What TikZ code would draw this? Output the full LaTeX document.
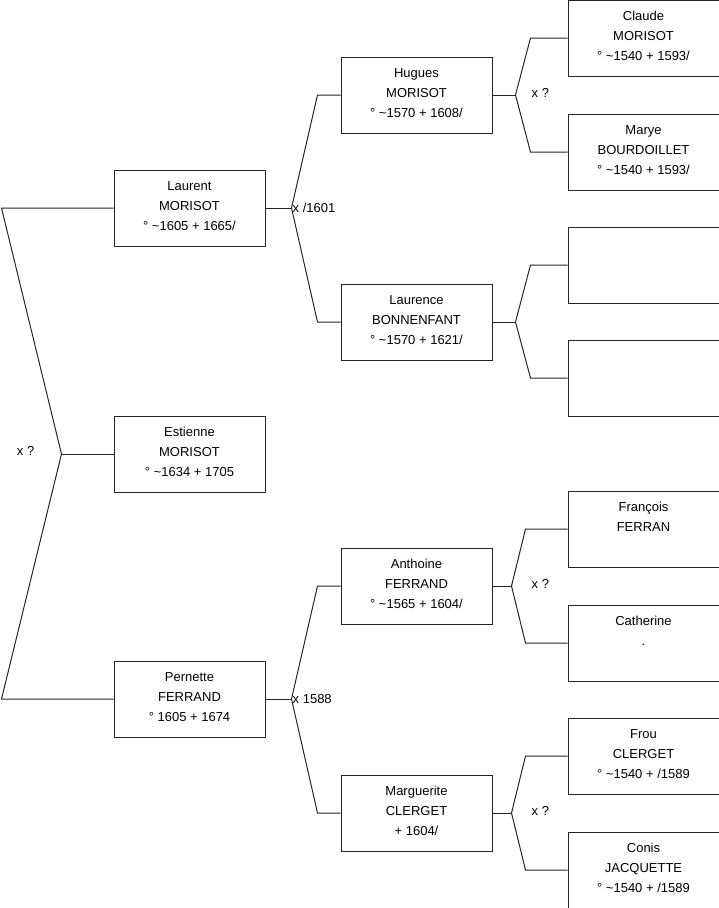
\documentclass[tikz,border=0pt]{standalone}
\usepackage{fontspec}
\setmainfont{Liberation Sans}

\tikzset{
  person/.style={draw=black!85, line width=1pt, fill=white, minimum width=151pt, minimum height=76pt,
    inner sep=0pt, align=center, font=\fontsize{13}{20}\selectfont},
  link/.style={draw=black!85, line width=1pt},
  union/.style={inner sep=1pt, font=\fontsize{13}{15}\selectfont}
}
\newcommand{\who}[3]{\strut #1\\\strut #2\\\strut #3\rule[-10pt]{0pt}{10pt}}

\begin{document}
\begin{tikzpicture}[x=1pt, y=-1pt]
  \useasboundingbox (0,0) rectangle (719,908);

  \node[person] (estienne) at (189.5,454) {\who{Estienne}{MORISOT}{° \textasciitilde1634 + 1705}};
  \node[person] (laurent) at (189.5,208) {\who{Laurent}{MORISOT}{° \textasciitilde1605 + 1665/}};
  \node[person] (pernette) at (189.5,699) {\who{Pernette}{FERRAND}{° 1605 + 1674}};

  \node[person] (hugues) at (416.5,95) {\who{Hugues}{MORISOT}{° \textasciitilde1570 + 1608/}};
  \node[person] (laurence) at (416.5,322) {\who{Laurence}{BONNENFANT}{° \textasciitilde1570 + 1621/}};
  \node[person] (anthoine) at (416.5,586) {\who{Anthoine}{FERRAND}{° \textasciitilde1565 + 1604/}};
  \node[person] (marguerite) at (416.5,813) {\who{Marguerite}{CLERGET}{+ 1604/}};

  \node[person] (claude) at (643.5,38) {\who{Claude}{MORISOT}{° \textasciitilde1540 + 1593/}};
  \node[person] (marye) at (643.5,152) {\who{Marye}{BOURDOILLET}{° \textasciitilde1540 + 1593/}};
  \node[person] (blanka) at (643.5,265) {};
  \node[person] (blankb) at (643.5,378) {};
  \node[person] (francois) at (643.5,529) {\who{François}{FERRAN}{}};
  \node[person] (catherine) at (643.5,643) {\who{Catherine}{.}{}};
  \node[person] (frou) at (643.5,756) {\who{Frou}{CLERGET}{° \textasciitilde1540 + /1589}};
  \node[person] (conis) at (643.5,870) {\who{Conis}{JACQUETTE}{° \textasciitilde1540 + /1589}};

  % forks
  \coordinate (f0) at ([xshift=-52pt]estienne.west);
  \coordinate (f1) at ([xshift=26pt]laurent.east);
  \coordinate (f2) at ([xshift=26pt]pernette.east);
  \coordinate (f3) at ([xshift=23pt]hugues.east);
  \coordinate (f4) at ([xshift=23pt]laurence.east);
  \coordinate (f5) at ([xshift=19pt]anthoine.east);
  \coordinate (f6) at ([xshift=19pt]marguerite.east);

  \draw[link] (estienne.west) -- (f0);
  \draw[link] (f0) -- ([xshift=-112pt]laurent.west) -- (laurent.west);
  \draw[link] (f0) -- ([xshift=-112pt]pernette.west) -- (pernette.west);

  \draw[link] (laurent.east) -- (f1);
  \draw[link] (f1) -- ([xshift=-23pt]hugues.west) -- (hugues.west);
  \draw[link] (f1) -- ([xshift=-23pt]laurence.west) -- (laurence.west);
  \draw[link] (pernette.east) -- (f2);
  \draw[link] (f2) -- ([xshift=-23pt]anthoine.west) -- (anthoine.west);
  \draw[link] (f2) -- ([xshift=-23pt]marguerite.west) -- (marguerite.west);

  \draw[link] (hugues.east) -- (f3);
  \draw[link] (f3) -- ([xshift=-37pt]claude.west) -- (claude.west);
  \draw[link] (f3) -- ([xshift=-37pt]marye.west) -- (marye.west);
  \draw[link] (laurence.east) -- (f4);
  \draw[link] (f4) -- ([xshift=-37pt]blanka.west) -- (blanka.west);
  \draw[link] (f4) -- ([xshift=-37pt]blankb.west) -- (blankb.west);
  \draw[link] (anthoine.east) -- (f5);
  \draw[link] (f5) -- ([xshift=-42pt]francois.west) -- (francois.west);
  \draw[link] (f5) -- ([xshift=-42pt]catherine.west) -- (catherine.west);
  \draw[link] (marguerite.east) -- (f6);
  \draw[link] (f6) -- ([xshift=-42pt]frou.west) -- (frou.west);
  \draw[link] (f6) -- ([xshift=-42pt]conis.west) -- (conis.west);

  % unions
  \node[union, anchor=east] (u0) at ([xshift=-26pt,yshift=3pt]f0) {x ?};
  \node[union, anchor=west] (u1) at (f1) {x /1601};
  \node[union, anchor=west] (u2) at (f2) {x 1588};
  \node[union, anchor=west] (u3) at ([xshift=15pt,yshift=2pt]f3) {x ?};
  \node[union, anchor=west] (u5) at ([xshift=19pt,yshift=2pt]f5) {x ?};
  \node[union, anchor=west] (u6) at ([xshift=19pt,yshift=2pt]f6) {x ?};
\end{tikzpicture}
\end{document}
